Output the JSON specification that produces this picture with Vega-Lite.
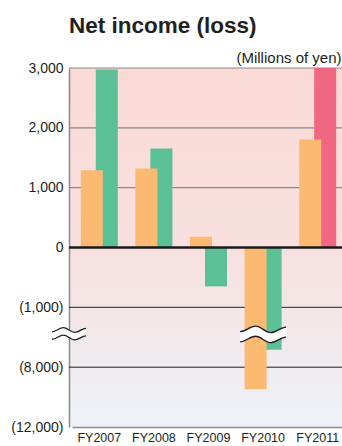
{
  "$schema": "https://vega.github.io/schema/vega-lite/v6.json",
  "autosize": "none",
  "width": 273,
  "height": 359,
  "padding": {"left": 69, "top": 68, "right": 0, "bottom": 19},
  "background": "#ffffff",
  "title": {
    "text": "Net income (loss)",
    "anchor": "start",
    "frame": "group",
    "fontSize": 22.5,
    "fontWeight": "bold",
    "font": "Liberation Sans",
    "color": "#231f20",
    "offset": 13
  },
  "config": {
    "view": {
      "stroke": null,
      "fill": {
        "gradient": "linear",
        "x1": 0, "y1": 0, "x2": 0, "y2": 1,
        "stops": [
          {"offset": 0, "color": "#fbdad5"},
          {"offset": 0.5, "color": "#f7e0de"},
          {"offset": 1, "color": "#edf2f8"}
        ]
      }
    },
    "axis": {"labelFont": "Liberation Sans", "titleFont": "Liberation Sans"}
  },
  "datasets": {
    "income": [
      {"fy": "FY2007", "series": "Consolidated", "value": 1290},
      {"fy": "FY2007", "series": "Non-consolidated", "value": 2975},
      {"fy": "FY2008", "series": "Consolidated", "value": 1320},
      {"fy": "FY2008", "series": "Non-consolidated", "value": 1655},
      {"fy": "FY2009", "series": "Consolidated", "value": 180},
      {"fy": "FY2009", "series": "Non-consolidated", "value": -650},
      {"fy": "FY2010", "series": "Consolidated", "value": -9480},
      {"fy": "FY2010", "series": "Non-consolidated", "value": -5950},
      {"fy": "FY2011", "series": "Consolidated", "value": 1805},
      {"fy": "FY2011", "series": "Non-consolidated (highlight)", "value": 3000}
    ],
    "grayGrid": [{"g": 3000}, {"g": 2000}, {"g": 1000}],
    "blackGrid": [{"g": -1000}, {"g": -8000}],
    "zeroLine": [{"g": 0}],
    "breaks": [{"fy": "FY2010", "v": -3900}]
  },
  "layer": [
    {
      "data": {"name": "grayGrid"},
      "mark": {"type": "rule", "color": "#8a8a8a", "strokeWidth": 1.2},
      "encoding": {
        "y": {
          "field": "g",
          "type": "quantitative",
          "scale": {"domain": [-12000, -8000, -1000, 3000], "range": [359, 299.2, 239.3, 0], "nice": false, "zero": false, "clamp": true},
          "axis": {
            "values": [3000, 2000, 1000, 0, -1000, -8000, -12000],
            "labelExpr": "datum.value < 0 ? '(' + format(-datum.value, ',') + ')' : format(datum.value, ',')",
            "labelFontSize": 14,
            "labelColor": "#231f20",
            "labelPadding": 6,
            "ticks": false,
            "grid": false,
            "domainColor": "#8a8a8a",
            "domainWidth": 1.5,
            "title": "(Millions of yen)",
            "titleAngle": 0,
            "titleX": 272,
            "titleY": -6,
            "titleAlign": "right",
            "titleBaseline": "alphabetic",
            "titleFontSize": 15,
            "titleFontWeight": "normal",
            "titleColor": "#231f20"
          }
        }
      }
    },
    {
      "data": {"name": "blackGrid"},
      "mark": {"type": "rule", "color": "#231f20", "strokeWidth": 1},
      "encoding": {"y": {"field": "g", "type": "quantitative"}}
    },
    {
      "data": {"name": "income"},
      "transform": [{"filter": "datum.series !== 'Consolidated'"}],
      "mark": {"type": "bar", "width": 22, "xOffset": 7.5, "clip": true},
      "encoding": {
        "x": {
          "field": "fy",
          "type": "nominal",
          "scale": {"range": [3, 276], "paddingInner": 0, "paddingOuter": 0},
          "axis": {
            "title": null,
            "labelAngle": 0,
            "labelFontSize": 12.5,
            "labelColor": "#231f20",
            "labelPadding": 4,
            "ticks": false,
            "domainColor": "#8a8a8a",
            "domainWidth": 1.5
          }
        },
        "y": {"field": "value", "type": "quantitative"},
        "color": {
          "field": "series",
          "type": "nominal",
          "scale": {
            "domain": ["Consolidated", "Non-consolidated", "Non-consolidated (highlight)"],
            "range": ["#fbb971", "#5bc096", "#f06782"]
          },
          "legend": null
        }
      }
    },
    {
      "data": {"name": "income"},
      "transform": [{"filter": "datum.series === 'Consolidated'"}],
      "mark": {"type": "bar", "width": 22, "xOffset": -7.5, "clip": true},
      "encoding": {
        "x": {"field": "fy", "type": "nominal"},
        "y": {"field": "value", "type": "quantitative"},
        "color": {"field": "series", "type": "nominal"}
      }
    },
    {
      "data": {"name": "zeroLine"},
      "mark": {"type": "rule", "color": "#1a1a1a", "strokeWidth": 2.4},
      "encoding": {"y": {"field": "g", "type": "quantitative"}}
    },
    {
      "data": {"name": "breaks"},
      "mark": {
        "type": "point",
        "shape": "M-1,-0.02 C-0.75,-0.02 -0.58,-0.26 -0.33,-0.26 C-0.08,-0.26 0.08,0.02 0.33,0.02 C0.58,0.02 0.75,-0.22 1,-0.22 L1,0.22 C0.75,0.22 0.58,0.46 0.33,0.46 C0.08,0.46 -0.08,0.18 -0.33,0.18 C-0.58,0.18 -0.75,0.42 -1,0.42 Z",
        "filled": true,
        "fill": "#ffffff",
        "strokeWidth": 0,
        "opacity": 1,
        "size": 2116
      },
      "encoding": {
        "x": {"field": "fy", "type": "nominal"},
        "y": {"field": "v", "type": "quantitative"}
      }
    },
    {
      "data": {"name": "breaks"},
      "mark": {
        "type": "point",
        "shape": "M-1,-0.02 C-0.75,-0.02 -0.58,-0.26 -0.33,-0.26 C-0.08,-0.26 0.08,0.02 0.33,0.02 C0.58,0.02 0.75,-0.22 1,-0.22 M1,0.22 C0.75,0.22 0.58,0.46 0.33,0.46 C0.08,0.46 -0.08,0.18 -0.33,0.18 C-0.58,0.18 -0.75,0.42 -1,0.42",
        "filled": false,
        "stroke": "#231f20",
        "strokeWidth": 1.3,
        "opacity": 1,
        "size": 2116
      },
      "encoding": {
        "x": {"field": "fy", "type": "nominal"},
        "y": {"field": "v", "type": "quantitative"}
      }
    },
    {
      "data": {"name": "breaks"},
      "mark": {
        "type": "point",
        "shape": "M-1,-0.02 C-0.75,-0.02 -0.58,-0.26 -0.33,-0.26 C-0.08,-0.26 0.08,0.02 0.33,0.02 C0.58,0.02 0.75,-0.22 1,-0.22 L1,0.22 C0.75,0.22 0.58,0.46 0.33,0.46 C0.08,0.46 -0.08,0.18 -0.33,0.18 C-0.58,0.18 -0.75,0.42 -1,0.42 Z",
        "filled": true,
        "fill": "#ffffff",
        "strokeWidth": 0,
        "opacity": 1,
        "size": 1156
      },
      "encoding": {
        "x": {"value": 0},
        "y": {"field": "v", "type": "quantitative"}
      }
    },
    {
      "data": {"name": "breaks"},
      "mark": {
        "type": "point",
        "shape": "M-1,-0.02 C-0.75,-0.02 -0.58,-0.26 -0.33,-0.26 C-0.08,-0.26 0.08,0.02 0.33,0.02 C0.58,0.02 0.75,-0.22 1,-0.22 M1,0.22 C0.75,0.22 0.58,0.46 0.33,0.46 C0.08,0.46 -0.08,0.18 -0.33,0.18 C-0.58,0.18 -0.75,0.42 -1,0.42",
        "filled": false,
        "stroke": "#231f20",
        "strokeWidth": 1.3,
        "opacity": 1,
        "size": 1156
      },
      "encoding": {
        "x": {"value": 0},
        "y": {"field": "v", "type": "quantitative"}
      }
    }
  ]
}
